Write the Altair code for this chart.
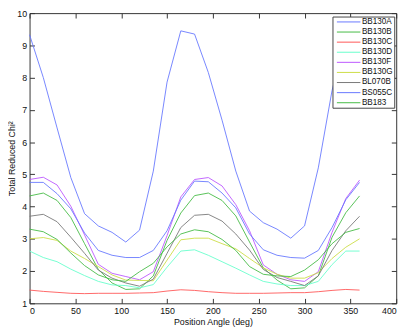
import altair as alt
import pandas as pd

angles = [0, 15, 30, 45, 60, 75, 90, 105, 120, 135, 150, 165, 180,
          195, 210, 225, 240, 255, 270, 285, 300, 315, 330, 345, 360]

names = ["BB130A", "BB130B", "BB130C", "BB130D", "BB130F",
         "BB130G", "BL070B", "BS055C", "BB183"]
colors = ["#6677ff", "#44bb44", "#ff5555", "#66ffcc", "#bb55ff",
          "#ccdd44", "#777777", "#6677ff", "#44bb44"]

bb130a = [9.33, 8.00, 6.44, 4.90, 3.78, 3.40, 3.20, 2.90, 3.27, 5.10, 7.86, 9.45, 9.35,
          8.16, 6.68, 5.10, 3.86, 3.50, 3.30, 3.02, 3.40, 5.20, 7.60, 9.30, 9.33]
bb130b = [4.33, 4.42, 4.19, 3.66, 2.85, 2.05, 1.63, 1.43, 1.45, 1.85, 2.95, 3.80, 4.34,
          4.42, 4.19, 3.71, 2.90, 2.10, 1.72, 1.45, 1.48, 1.85, 3.05, 3.81, 4.33]
bb130c = [1.41, 1.37, 1.34, 1.31, 1.30, 1.31, 1.31, 1.31, 1.32, 1.33, 1.38, 1.42, 1.40,
          1.36, 1.33, 1.31, 1.31, 1.31, 1.32, 1.33, 1.33, 1.36, 1.40, 1.43, 1.41]
bb130d = [2.62, 2.42, 2.29, 2.06, 1.86, 1.68, 1.57, 1.55, 1.48, 1.58, 2.12, 2.62, 2.66,
          2.49, 2.29, 2.09, 1.88, 1.68, 1.60, 1.55, 1.55, 1.68, 2.20, 2.62, 2.62]
bb130f = [4.84, 4.91, 4.67, 4.01, 3.12, 2.21, 1.93, 1.83, 1.73, 1.98, 3.10, 4.30, 4.84,
          4.90, 4.64, 4.06, 3.25, 2.19, 1.90, 1.73, 1.68, 1.98, 3.20, 4.25, 4.82]
bb130g = [3.00, 3.04, 2.95, 2.62, 2.39, 2.14, 1.88, 1.72, 1.71, 1.70, 2.34, 2.97, 3.02,
          3.02, 2.85, 2.69, 2.39, 2.10, 1.90, 1.78, 1.78, 1.95, 2.39, 2.74, 3.00]
bl070b = [3.70, 3.76, 3.53, 3.05, 2.55, 2.03, 1.78, 1.63, 1.53, 1.75, 2.55, 3.35, 3.73,
          3.76, 3.55, 3.15, 2.65, 2.05, 1.80, 1.68, 1.55, 1.85, 2.64, 3.25, 3.70]
bs055c = [4.75, 4.75, 4.40, 3.93, 3.18, 2.64, 2.49, 2.42, 2.42, 2.64, 3.25, 4.20, 4.79,
          4.77, 4.42, 3.96, 3.15, 2.66, 2.49, 2.42, 2.40, 2.64, 3.35, 4.21, 4.75]
bb183 = [3.30, 3.22, 2.98, 2.56, 2.17, 1.88, 1.73, 1.68, 1.98, 2.24, 2.75, 3.15, 3.28,
         3.22, 2.98, 2.64, 2.14, 1.90, 1.85, 1.83, 2.03, 2.35, 2.85, 3.20, 3.32]

x_ticks = [0, 50, 100, 150, 200, 250, 300, 350, 400]
y_ticks = [1, 2, 3, 4, 5, 6, 7, 8, 9, 10]

series = [bb130a, bb130b, bb130c, bb130d, bb130f, bb130g, bl070b, bs055c, bb183]
rows = []
for name, vals in zip(names, series):
    for a, v in zip(angles, vals):
        rows.append({"series": name, "angle": a, "value": v})
df = pd.DataFrame(rows)

FONT = "Liberation Sans"
x_scale = alt.Scale(domain=[0, 400], nice=False, zero=False)
y_scale = alt.Scale(domain=[1, 10], nice=False, zero=False)
inside = {"expr": "-5"}

lines = alt.Chart(df).mark_line(strokeWidth=0.9).encode(
    x=alt.X("angle:Q", scale=x_scale,
            axis=alt.Axis(orient="bottom", values=x_ticks, title="Position Angle (deg)",
                          tickSize=inside, labelPadding=8, domain=False, grid=False,
                          titleY=15, titleBaseline="top", titleFontWeight="normal",
                          titleFontSize=9, titleFont=FONT)),
    y=alt.Y("value:Q", scale=y_scale,
            axis=alt.Axis(orient="left", values=y_ticks, title="Total Reduced Chi²",
                          tickSize=inside, labelPadding=8, domain=False, grid=False,
                          titleX=-13, titleY=148, titleBaseline="bottom",
                          titleFontWeight="normal", titleFontSize=9, titleFont=FONT)),
    color=alt.Color("series:N", scale=alt.Scale(domain=names, range=colors),
                    legend=alt.Legend(orient="none", legendX=309, legendY=3.5, title=None,
                                      fillColor="white", strokeColor="#444", padding=1,
                                      symbolType="M-0.25,0H5.75", symbolSize=64,
                                      symbolStrokeWidth=1, labelFontSize=8.3,
                                      labelFont=FONT, labelColor="#111",
                                      labelOffset=20, rowPadding=1.3, cornerRadius=0)),
)

mirror = alt.Chart(df).mark_line(opacity=0).encode(
    x=alt.X("angle:Q", scale=x_scale,
            axis=alt.Axis(orient="top", values=x_ticks, labels=False, domain=False,
                          grid=False, title=None, tickSize=inside)),
    y=alt.Y("value:Q", scale=y_scale,
            axis=alt.Axis(orient="right", values=y_ticks, labels=False, domain=False,
                          grid=False, title=None, tickSize=inside)),
    detail="series:N",
)

chart = alt.layer(lines, mirror).resolve_axis(
    x="independent", y="independent"
).properties(
    width=374, height=296,
    padding={"left": 22, "top": 2, "right": 11, "bottom": 24},
    autosize=alt.AutoSizeParams(type="none"),
    background="white",
).configure_view(
    stroke="#333", strokeWidth=1
).configure_axis(
    labelFont=FONT, labelFontSize=9, labelColor="#111",
    tickColor="#333", tickWidth=1, titleColor="#111",
)

chart.save("out.html", embed_options={"renderer": "svg", "actions": False})
